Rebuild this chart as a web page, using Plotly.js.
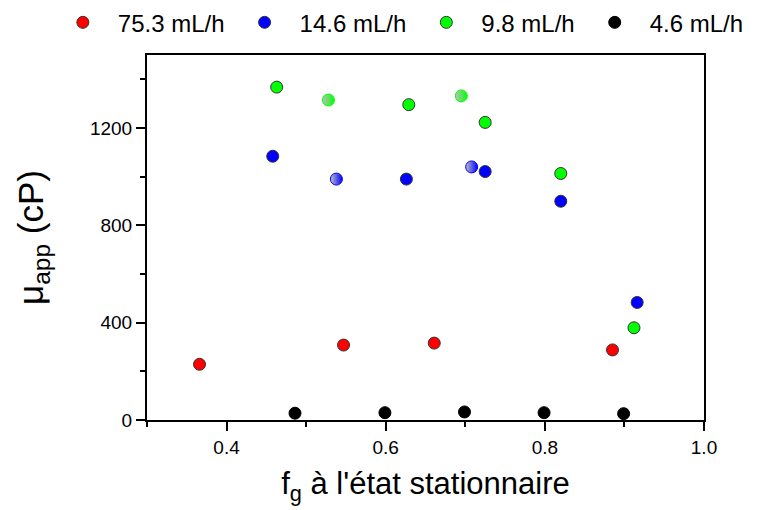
<!DOCTYPE html>
<html>
<head>
<meta charset="utf-8">
<script src="https://cdn.plot.ly/plotly-3.0.1.min.js"></script>
<style>html,body{margin:0;padding:0;background:#fff;}#chart{width:758px;height:510px;}</style>
</head>
<body>
<div id="chart"></div>
<script>
// Data
const seriesNames = ["75.3 mL/h", "14.6 mL/h", "9.8 mL/h", "4.6 mL/h"];
const seriesColors = ["#ff0000", "#0000ff", "#00ff00", "#000000"];

const redX = [0.366, 0.547, 0.661, 0.885];
const redY = [229, 308, 316, 288];

const blueX = [0.458, 0.626, 0.725, 0.820, 0.916];
const blueY = [1084, 990, 1021, 899, 483];
const blueHalfX = [0.538, 0.708];
const blueHalfY = [990, 1040];

const greenX = [0.463, 0.629, 0.725, 0.820, 0.912];
const greenY = [1368, 1296, 1223, 1013, 379];
const greenHalfX = [0.528, 0.695];
const greenHalfY = [1315, 1332];

const blackX = [0.486, 0.599, 0.699, 0.799, 0.899];
const blackY = [28, 30, 33, 30, 26];

const xTitle = "f<sub>g</sub> à l'état stationnaire";
const yTitle = "μ<sub>app</sub> (cP)";

const FONT = "Liberation Sans, Arial, sans-serif";

function full(x, y, i, lineColor) {
  return {
    x: x, y: y, type: "scatter", mode: "markers", name: seriesNames[i],
    marker: {size: 12, color: seriesColors[i], line: {color: lineColor, width: 1}},
    hoverinfo: "x+y"
  };
}
function half(x, y, i) {
  return {
    x: x, y: y, type: "scatter", mode: "markers", name: seriesNames[i], showlegend: false,
    marker: {size: 12, color: "#c0c0c0",
      gradient: {type: "horizontal", color: seriesColors[i]},
      line: {color: seriesColors[i], width: 1}},
    hoverinfo: "x+y"
  };
}

const traces = [
  full(redX, redY, 0, "#333333"),
  full(blueX, blueY, 1, "#333333"),
  full(greenX, greenY, 2, "#333333"),
  full(blackX, blackY, 3, "#000000"),
  half(blueHalfX, blueHalfY, 1),
  half(greenHalfX, greenHalfY, 2)
];

const layout = {
  width: 758, height: 510,
  paper_bgcolor: "#ffffff", plot_bgcolor: "#ffffff",
  font: {family: FONT, color: "#000000", size: 19},
  margin: {l: 147, r: 54, t: 55, b: 90, autoexpand: false},
  showlegend: true,
  legend: {
    orientation: "h", xref: "paper", yref: "paper",
    x: -0.178, xanchor: "left", y: 1.15, yanchor: "top",
    font: {family: FONT, size: 24, color: "#000"},
    itemwidth: 60, bgcolor: "rgba(0,0,0,0)"
  },
  xaxis: {
    range: [0.3, 1.0], tick0: 0, dtick: 0.2, tickformat: ".1f",
    showgrid: false, zeroline: false,
    showline: true, linecolor: "#000", linewidth: 2, mirror: true,
    ticks: "outside", ticklen: 9, tickwidth: 2, tickcolor: "#000",
    minor: {dtick: 0.1, ticks: "outside", ticklen: 5, tickwidth: 2, tickcolor: "#000", showgrid: false},
    tickfont: {family: FONT, size: 19},
    title: {text: xTitle, font: {family: FONT, size: 31}, standoff: 16}
  },
  yaxis: {
    range: [0, 1500], tick0: 0, dtick: 400,
    showgrid: false, zeroline: false,
    showline: true, linecolor: "#000", linewidth: 2, mirror: true,
    ticks: "outside", ticklen: 9, tickwidth: 2, tickcolor: "#000",
    minor: {dtick: 200, ticks: "outside", ticklen: 5, tickwidth: 2, tickcolor: "#000", showgrid: false},
    tickfont: {family: FONT, size: 19},
    title: {text: yTitle, font: {family: FONT, size: 35}, standoff: 36}
  }
};

Plotly.newPlot("chart", traces, layout, {displayModeBar: false, staticPlot: true});
</script>
</body>
</html>
